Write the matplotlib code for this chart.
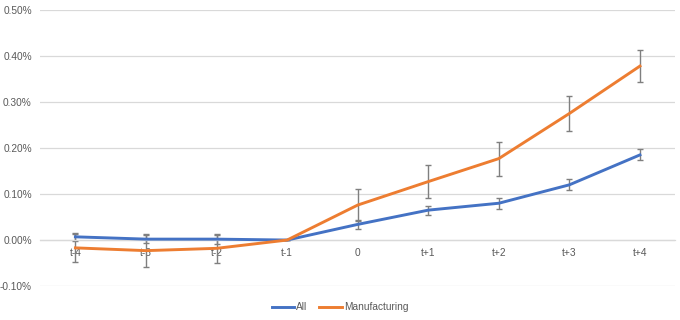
import numpy as np
import matplotlib
matplotlib.use("Agg")
import matplotlib.pyplot as plt
from matplotlib.ticker import FuncFormatter

# event-time categories
labels = ["t-4", "t-3", "t-2", "t-1", "0", "t+1", "t+2", "t+3", "t+4"]

# values in percent
all_vals = [0.007, 0.002, 0.002, 0.000, 0.034, 0.065, 0.080, 0.120, 0.185]
all_err = [0.008, 0.009, 0.010, 0.000, 0.010, 0.010, 0.012, 0.012, 0.012]
mfg_vals = [-0.017, -0.023, -0.018, 0.000, 0.076, 0.127, 0.177, 0.275, 0.378]
mfg_err = [0.030, 0.036, 0.031, 0.000, 0.035, 0.035, 0.037, 0.039, 0.035]

blue = "#4472C4"
orange = "#ED7D31"
err_col = "#7F7F7F"
txt_col = "#595959"
grid_col = "#D9D9D9"

plt.rcParams['font.family'] = ['Liberation Sans', 'DejaVu Sans']

fig = plt.figure(figsize=(6.8, 3.2), dpi=100)
ax = fig.add_axes([0.059, 0.106, 0.934, 0.863])

x = np.arange(len(labels))

ax.errorbar(x, all_vals, yerr=all_err, fmt='none', ecolor=err_col,
            elinewidth=1.0, capsize=2.5, capthick=1.0, zorder=2)
ax.errorbar(x, mfg_vals, yerr=mfg_err, fmt='none', ecolor=err_col,
            elinewidth=1.0, capsize=2.5, capthick=1.0, zorder=2)
ax.plot(x, all_vals, color=blue, lw=2.1, label="All", zorder=3,
        solid_joinstyle='round')
ax.plot(x, mfg_vals, color=orange, lw=2.1, label="Manufacturing", zorder=3,
        solid_joinstyle='round')

ax.set_xlim(-0.5, len(labels) - 0.5)
ax.set_ylim(-0.1, 0.5)
ax.set_yticks(np.arange(-0.1, 0.51, 0.1))
ax.yaxis.set_major_formatter(FuncFormatter(lambda v, p: "{:.2f}%".format(v)))
ax.grid(axis='y', color=grid_col, lw=0.9)
ax.set_axisbelow(True)

for s in ['top', 'right', 'left']:
    ax.spines[s].set_visible(False)
ax.spines['bottom'].set_position(('data', 0))
ax.spines['bottom'].set_color(grid_col)
ax.spines['bottom'].set_linewidth(0.9)

ax.set_xticks(x)
ax.set_xticklabels(labels)
ax.tick_params(axis='x', length=0, pad=6, labelsize=7.3, labelcolor=txt_col)
ax.tick_params(axis='y', length=0, pad=6, labelsize=7.3, labelcolor=txt_col)

fig.legend(loc='lower center', bbox_to_anchor=(0.5, -0.005), ncol=2,
           frameon=False, fontsize=7.3, labelcolor=txt_col, handlelength=2.2,
           handletextpad=0.2, columnspacing=1.2)

fig.savefig("out.png", dpi=100)
